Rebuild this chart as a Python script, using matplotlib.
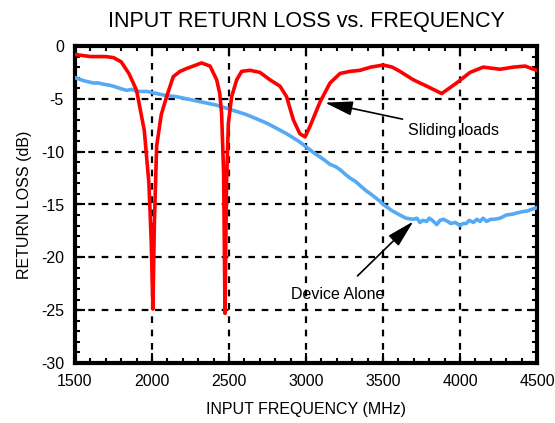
import matplotlib
matplotlib.use("Agg")
import matplotlib.pyplot as plt
from matplotlib.ticker import MultipleLocator

plt.rcParams['font.family'] = ['Liberation Sans', 'DejaVu Sans']
plt.rcParams['axes.unicode_minus'] = False

red_f = [1500, 1550, 1600, 1650, 1700, 1750, 1800, 1850, 1900, 1950, 1980, 1995, 2006,
         2015, 2030, 2060, 2095, 2138, 2182, 2230, 2268, 2322, 2377, 2420, 2440, 2452, 2465, 2474,
         2484, 2496, 2517, 2550, 2582, 2636, 2701, 2766, 2831, 2874, 2918, 2960, 2994,
         3026, 3091, 3156, 3221, 3286, 3351, 3420, 3502, 3560, 3610, 3697, 3784, 3881,
         3978, 4065, 4151, 4260, 4346, 4422, 4497]
red_db = [-0.8, -0.9, -1.0, -1.0, -1.0, -1.1, -1.5, -2.6, -4.2, -8.0, -13.0, -18.5, -24.9,
          -17.0, -9.5, -6.5, -4.8, -2.9, -2.4, -2.1, -1.9, -1.6, -1.9, -3.2, -4.5, -6.4, -12.0, -25.3,
          -13.0, -7.3, -4.8, -3.2, -2.4, -2.3, -2.5, -3.2, -3.8, -4.8, -7.0, -8.3, -8.6,
          -7.6, -5.3, -3.5, -2.6, -2.4, -2.3, -2.0, -1.8, -2.0, -2.4, -3.2, -3.8, -4.5,
          -3.5, -2.5, -2.0, -2.2, -2.0, -1.9, -2.3]

blue_f = [1500, 1560, 1619, 1650, 1680, 1720, 1749, 1790, 1835, 1870, 1900, 1965, 2000, 2030, 2095, 2160, 2225,
          2290, 2355, 2420, 2485, 2550, 2615, 2680, 2745, 2810, 2874, 2940, 2961, 3015,
          3050, 3091, 3120, 3156, 3190, 3221, 3260, 3286, 3320, 3351, 3390, 3420, 3481, 3502, 3560, 3610, 3650, 3697, 3720, 3740,
          3760, 3784, 3800, 3820, 3849, 3870, 3892, 3920, 3940, 3970, 4000, 4020, 4040, 4060, 4087, 4110, 4130, 4150, 4173, 4200, 4220, 4260,
          4300, 4346, 4370, 4400, 4440, 4476, 4500]
blue_db = [-3.0, -3.3, -3.5, -3.5, -3.6, -3.7, -3.8, -4.0, -4.2, -4.1, -4.3, -4.3, -4.4, -4.5, -4.7, -4.8, -5.0,
           -5.2, -5.4, -5.6, -5.9, -6.2, -6.5, -6.9, -7.3, -7.8, -8.3, -8.9, -9.1, -9.7,
           -10.1, -10.5, -10.8, -11.2, -11.4, -11.7, -12.2, -12.5, -12.8, -13.2, -13.7, -14.0, -14.7, -15.0, -15.6, -16.0, -16.3, -16.4, -16.3, -16.7,
           -16.5, -16.6, -16.3, -16.5, -16.9, -16.5, -16.4, -16.6, -16.8, -16.7, -17.0, -16.8, -16.8, -16.5, -16.7, -16.4, -16.6, -16.3, -16.6, -16.4, -16.4, -16.3,
           -16.0, -15.9, -15.8, -15.7, -15.6, -15.4, -15.3]

fig = plt.figure(figsize=(5.55, 4.23), dpi=100)
ax = fig.add_axes([75/555, 1-363/423, (537-75)/555, (363-46)/423])

ax.plot(blue_f, blue_db, color='#55aaf5', lw=2.6, zorder=3)
ax.plot(red_f, red_db, color='#ff0000', lw=2.6, zorder=4)

ax.set_xlim(1500, 4500)
ax.set_ylim(-30, 0)
ax.xaxis.set_major_locator(MultipleLocator(500))
ax.xaxis.set_minor_locator(MultipleLocator(100))
ax.yaxis.set_major_locator(MultipleLocator(5))
ax.yaxis.set_minor_locator(MultipleLocator(1))
ax.grid(True, which='major', color='black', ls=(0, (3, 3)), lw=1.6)
ax.tick_params(which='both', direction='in', top=True, right=True, labelsize=11.5, width=1.5)
ax.tick_params(which='major', length=7, pad=8)
ax.tick_params(which='minor', length=3.5)
for s in ax.spines.values():
    s.set_linewidth(3)

ax.set_title('INPUT RETURN LOSS vs. FREQUENCY', fontsize=15.5, pad=14)
ax.set_xlabel('INPUT FREQUENCY (MHz)', fontsize=11.5, labelpad=9)
ax.set_ylabel('RETURN LOSS (dB)', fontsize=11.5, labelpad=6)

astyle = dict(arrowstyle='-|>,head_length=0.85,head_width=0.22',
              color='black', lw=1.2, mutation_scale=20)
ax.annotate('Sliding loads', xy=(3123, -5.36), xytext=(3662, -7.95),
            fontsize=11.5, va='center', ha='left',
            arrowprops=dict(astyle, shrinkA=2, shrinkB=0))
ax.annotate('Device Alone', xy=(3697, -16.6), xytext=(3208, -23.56),
            fontsize=11.5, va='center', ha='center',
            arrowprops=dict(astyle, shrinkA=9, shrinkB=0))

fig.savefig('out.png', dpi=100)
